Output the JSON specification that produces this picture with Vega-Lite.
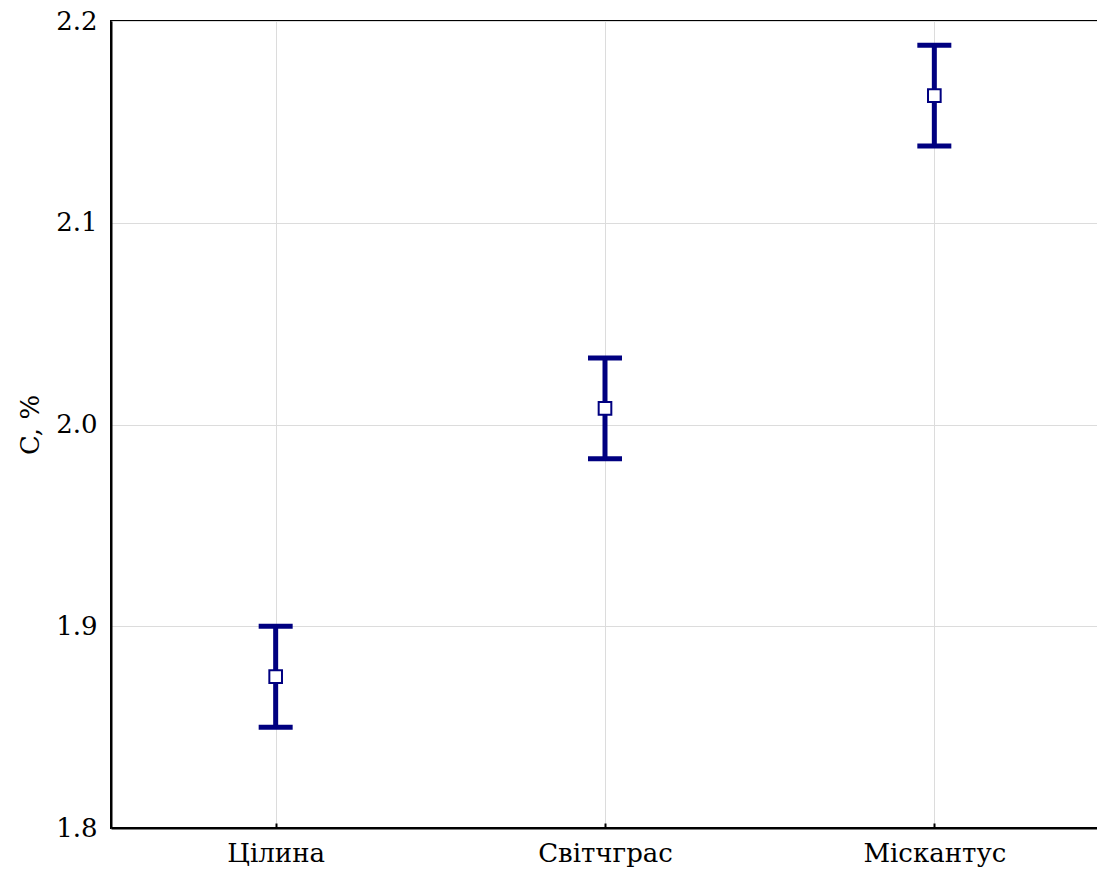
{
  "$schema": "https://vega.github.io/schema/vega-lite/v6.json",
  "width": 988,
  "height": 807,
  "autosize": {"type": "none"},
  "padding": {"left": 111, "top": 21, "right": 0, "bottom": 49},
  "background": "white",
  "config": {
    "view": {"stroke": "black", "strokeWidth": 2},
    "font": "DejaVu Serif"
  },
  "data": {
    "values": [
      {"group": "Цілина", "mean": 1.875, "lo": 1.85, "hi": 1.9},
      {"group": "Світчграс", "mean": 2.008, "lo": 1.983, "hi": 2.033},
      {"group": "Міскантус", "mean": 2.163, "lo": 2.138, "hi": 2.188}
    ]
  },
  "layer": [
    {
      "mark": {"type": "rule", "color": "#000080", "strokeWidth": 5, "opacity": 1},
      "encoding": {
        "x": {
          "field": "group",
          "type": "nominal",
          "sort": null,
          "scale": {"type": "point", "padding": 0.5},
          "axis": {
            "title": null, "labelAngle": 0, "labelPadding": 17, "grid": true, "labelLimit": 0,
            "labelFont": "DejaVu Serif", "labelFontSize": 26, "labelColor": "black",
            "gridColor": "#dcdcdc", "domainColor": "black", "domainWidth": 2,
            "tickColor": "black", "tickWidth": 2, "tickSize": -5
          }
        },
        "y": {
          "field": "lo",
          "type": "quantitative",
          "scale": {"domain": [1.8, 2.2], "nice": false, "zero": false},
          "axis": {
            "title": "C, %", "values": [1.8, 1.9, 2.0, 2.1, 2.2], "format": ".1f",
            "labelPadding": 14, "titlePadding": 12, "grid": true, "ticks": false,
            "labelFont": "DejaVu Serif", "labelFontSize": 26, "labelColor": "black",
            "titleFont": "DejaVu Serif", "titleFontSize": 26, "titleColor": "black", "titleFontWeight": "normal",
            "gridColor": "#dcdcdc", "domainColor": "black", "domainWidth": 2
          }
        },
        "y2": {"field": "hi"}
      }
    },
    {
      "mark": {"type": "tick", "color": "#000080", "thickness": 5, "size": 34, "orient": "horizontal", "opacity": 1},
      "encoding": {
        "x": {"field": "group", "type": "nominal", "sort": null},
        "y": {"field": "lo", "type": "quantitative"}
      }
    },
    {
      "mark": {"type": "tick", "color": "#000080", "thickness": 5, "size": 34, "orient": "horizontal", "opacity": 1},
      "encoding": {
        "x": {"field": "group", "type": "nominal", "sort": null},
        "y": {"field": "hi", "type": "quantitative"}
      }
    },
    {
      "mark": {"type": "point", "shape": "square", "filled": true, "fill": "white", "stroke": "#000080", "strokeWidth": 2, "size": 160, "opacity": 1},
      "encoding": {
        "x": {"field": "group", "type": "nominal", "sort": null},
        "y": {"field": "mean", "type": "quantitative"}
      }
    }
  ]
}
